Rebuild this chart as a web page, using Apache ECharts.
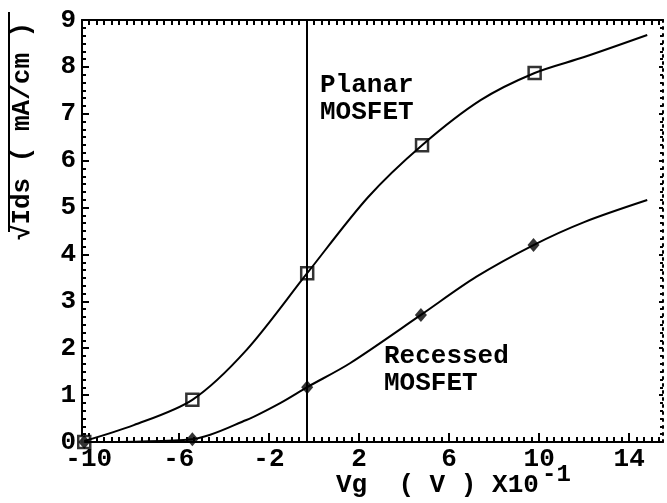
<!DOCTYPE html>
<html>
<head>
<meta charset="utf-8">
<script src="https://cdn.jsdelivr.net/npm/echarts@6/dist/echarts.min.js"></script>
<style>
html,body{margin:0;padding:0;background:#fff;}
#chart{width:667px;height:503px;}
</style>
</head>
<body>
<div id="chart"></div>
<script>
// ---- data ----
const xTickLabels = [-10, -6, -2, 2, 6, 10, 14];
const yTickLabels = [0, 1, 2, 3, 4, 5, 6, 7, 8, 9];

const planarCurveX = [-10.2, -8.0, -5.4, -3.0, -0.3, 2.4, 4.8, 7.4, 9.8, 12.0, 14.8];
const planarCurveY = [0.02, 0.36, 0.90, 1.96, 3.60, 5.22, 6.33, 7.29, 7.87, 8.21, 8.68];
const planarMarkX = [-10.2, -5.4, -0.3, 4.8, 9.8];
const planarMarkY = [0.0, 0.90, 3.60, 6.33, 7.87];

const recessedCurveX = [-10.2, -5.4, -3.0, -1.5, -0.3, 1.6, 4.75, 7.2, 9.75, 12.0, 14.8];
const recessedCurveY = [0.0, 0.06, 0.47, 0.83, 1.17, 1.68, 2.71, 3.52, 4.20, 4.69, 5.16];
const recessedMarkX = [-10.2, -5.4, -0.3, 4.75, 9.75];
const recessedMarkY = [0.0, 0.06, 1.17, 2.71, 4.20];

const vLineX = -0.3;

const xTitle = 'Vg  ( V ) X10';
const xTitleExp = '-1';
const yTitle = '\u221AIds ( mA/cm )';
const planarLabel = 'Planar\nMOSFET';
const recessedLabel = 'Recessed\nMOSFET';

// ---- build ----
const zip = (xs, ys) => xs.map((x, i) => [x, ys[i]]);
const X_MIN = -10.3, X_MAX = 15.5;
const minorX = [];
for (let k = -30; k <= 46; k++) { minorX.push(k / 3); }

const FONT = 'Liberation Mono';
const labelStyle = { fontFamily: FONT, fontSize: 26, fontWeight: 'bold', color: '#000' };
const black = '#000';

const chart = echarts.init(document.getElementById('chart'), null, { renderer: 'canvas' });
chart.setOption({
  animation: false,
  backgroundColor: '#fff',
  grid: { left: 82, right: 4, top: 20, bottom: 61, containLabel: false },
  xAxis: [
    {
      type: 'value', min: X_MIN, max: X_MAX, position: 'bottom',
      axisLine: { show: true, onZero: false, lineStyle: { color: black, width: 2 } },
      axisTick: { show: true, inside: true, length: 9, customValues: xTickLabels, lineStyle: { color: black, width: 2 } },
      axisLabel: { show: true, customValues: xTickLabels, margin: 4, formatter: v => String(v), ...labelStyle },
      splitLine: { show: false }
    },
    {
      type: 'value', min: X_MIN, max: X_MAX, position: 'bottom',
      axisLine: { show: false },
      axisTick: { show: true, inside: true, length: 5, customValues: minorX, lineStyle: { color: black, width: 2 } },
      axisLabel: { show: false },
      splitLine: { show: false }
    },
    {
      type: 'value', min: X_MIN, max: X_MAX, position: 'top',
      axisLine: { show: true, onZero: false, lineStyle: { color: black, width: 2 } },
      axisTick: { show: true, inside: true, length: 5, customValues: minorX, lineStyle: { color: black, width: 2 } },
      axisLabel: { show: false },
      splitLine: { show: false }
    }
  ],
  yAxis: [
    {
      type: 'value', min: 0, max: 9, interval: 1, position: 'left',
      axisLine: { show: true, onZero: false, lineStyle: { color: black, width: 2 } },
      axisTick: { show: true, inside: true, length: 7, lineStyle: { color: black, width: 2 } },
      minorTick: { show: true, splitNumber: 6, length: 4, lineStyle: { color: black, width: 2 } },
      axisLabel: { show: true, margin: 6, padding: [0, 0, 8, 0], ...labelStyle },
      splitLine: { show: false }
    },
    {
      type: 'value', min: 0, max: 9, interval: 1, position: 'right',
      axisLine: { show: true, onZero: false, lineStyle: { color: black, width: 2, type: [2, 5] } },
      axisTick: { show: true, inside: true, length: 4, lineStyle: { color: black, width: 2 } },
      minorTick: { show: true, splitNumber: 6, length: 3, lineStyle: { color: black, width: 2 } },
      axisLabel: { show: false },
      splitLine: { show: false }
    }
  ],
  series: [
    {
      type: 'line', name: 'Planar', data: zip(planarCurveX, planarCurveY),
      smooth: 0.3, showSymbol: false, lineStyle: { color: black, width: 2 },
      markLine: {
        silent: true, symbol: ['none', 'none'], label: { show: false },
        lineStyle: { color: black, width: 2, type: 'solid' },
        data: [{ xAxis: vLineX }]
      }
    },
    {
      type: 'line', name: 'Recessed', data: zip(recessedCurveX, recessedCurveY),
      smooth: 0.3, showSymbol: false, lineStyle: { color: black, width: 2 }
    },
    {
      type: 'scatter', name: 'PlanarMarks', data: zip(planarMarkX, planarMarkY),
      symbol: 'rect', symbolSize: 12, clip: false,
      itemStyle: { color: '#fff', borderColor: black, borderWidth: 2.5 }
    },
    {
      type: 'scatter', name: 'RecessedMarks', data: zip(recessedMarkX, recessedMarkY),
      symbol: 'diamond', symbolSize: [12, 14], clip: false,
      itemStyle: { color: black }
    }
  ],
  graphic: [
    { type: 'text', left: 320, top: 72, style: { text: planarLabel, fontFamily: FONT, fontSize: 26, fontWeight: 'bold', lineHeight: 27, fill: black } },
    { type: 'text', left: 384, top: 343, style: { text: recessedLabel, fontFamily: FONT, fontSize: 26, fontWeight: 'bold', lineHeight: 27, fill: black } },
    { type: 'text', left: 336, top: 472, style: { text: xTitle, fontFamily: FONT, fontSize: 26, fontWeight: 'bold', fill: black } },
    { type: 'text', left: 542, top: 463, style: { text: xTitleExp, fontFamily: FONT, fontSize: 24, fontWeight: 'bold', fill: black } },
    { type: 'text', x: 22, y: 131, rotation: Math.PI / 2,
      style: { text: yTitle, fontFamily: FONT, fontSize: 26, fontWeight: 'bold', fill: black, align: 'center', verticalAlign: 'middle' } },
    { type: 'line', shape: { x1: 9, y1: 12, x2: 9, y2: 232 }, style: { stroke: black, lineWidth: 2 } }
  ]
});
</script>
</body>
</html>
